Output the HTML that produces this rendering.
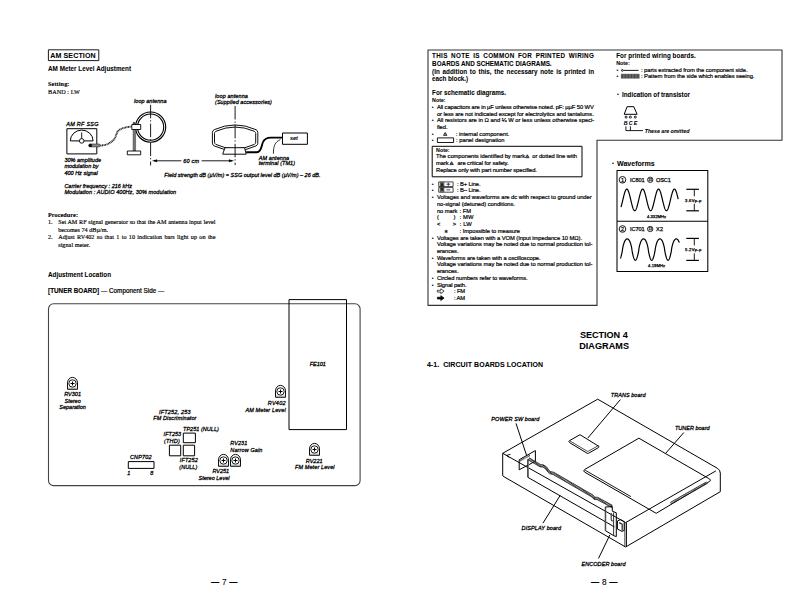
<!DOCTYPE html>
<html lang="en">
<head>
<meta charset="utf-8">
<title>Service Manual — AM Section / Diagrams</title>
<style>
html,body{margin:0;padding:0;background:#fff;}
body{width:793px;height:596px;position:relative;overflow:hidden;font-family:"Liberation Sans",sans-serif;color:#000;}
#sheet{position:absolute;left:0;top:0;width:793px;height:596px;overflow:hidden;background:#fff;}
#art{position:absolute;left:0;top:0;width:793px;height:596px;}
.t{position:absolute;white-space:pre;font-family:"Liberation Sans",sans-serif;font-weight:400;font-style:normal;color:#000;margin:0;padding:0;-webkit-text-stroke:0.2px #000;}
.b{font-weight:700;-webkit-text-stroke-width:0.06px;}
.i{font-style:italic;-webkit-text-stroke-width:0.27px;}
.s{font-family:"Liberation Serif",serif;-webkit-text-stroke-width:0.16px;}
.b.i{-webkit-text-stroke-width:0.06px;}
.b.s{-webkit-text-stroke-width:0.1px;}
svg text{font-family:"Liberation Sans",sans-serif;fill:#000;}
</style>
</head>
<body>
<div id="sheet">
<svg id="art" width="793" height="596" viewBox="0 0 793 596" stroke-linejoin="round" stroke-linecap="butt">
<g id="am-section-box">
<rect x="48.40" y="49.80" width="50.40" height="10.80" rx="0" fill="none" stroke="#000" stroke-width="0.9" />
</g>
<g id="setup-diagram">
<rect x="66.90" y="128.70" width="29.90" height="25.20" rx="0" fill="none" stroke="#000" stroke-width="1.0" />
<path d="M70.3 140.9 A11.4 10.8 0 0 1 93.1 140.9 Z" fill="none" stroke="#000" stroke-width="1.0" />
<circle cx="81.70" cy="140.90" r="2.30" fill="#fff" stroke="#000" stroke-width="0.9"/>
<line x1="81.70" y1="132.40" x2="81.70" y2="138.60" stroke="#000" stroke-width="0.9" />
<rect x="90.20" y="144.00" width="10.00" height="2.90" rx="1.2" fill="#888" stroke="#222" stroke-width="0.6" />
<circle cx="90.20" cy="145.40" r="1.50" fill="#000" stroke="#000" stroke-width="0.6"/>
<path d="M100.4 145.6 C106 145.2 110.5 143.3 114 139.5 C116.8 136 116 131.5 119.8 129.6 C123.5 127.6 127 127 131.6 126.5" fill="none" stroke="#222" stroke-width="1.9" stroke-dasharray="1.0 0.55"/>
<circle cx="150.60" cy="127.10" r="15.10" fill="none" stroke="#000" stroke-width="1.15"/>
<circle cx="150.60" cy="127.10" r="13.10" fill="none" stroke="#000" stroke-width="1.1"/>
<line x1="150.60" y1="104.80" x2="150.60" y2="165.40" stroke="#000" stroke-width="0.9" stroke-dasharray="13.5 2 1.2 2.2"/>
<rect x="133.10" y="129.50" width="2.50" height="21.50" rx="0" fill="#777" stroke="#333" stroke-width="0.5" />
<rect x="131.80" y="124.50" width="8.90" height="5.00" rx="0" fill="#fff" stroke="#000" stroke-width="0.9" />
<rect x="133.20" y="122.40" width="1.60" height="2.00" rx="0" fill="#555" stroke="#000" stroke-width="0.5" />
<rect x="127.30" y="151.00" width="13.40" height="3.80" rx="0" fill="#fff" stroke="#000" stroke-width="0.9" />
<line x1="154.00" y1="160.80" x2="181.30" y2="160.80" stroke="#000" stroke-width="0.9" />
<line x1="201.70" y1="160.80" x2="232.00" y2="160.80" stroke="#000" stroke-width="0.9" />
<path d="M152.30 160.80 L157.00 159.50 L157.00 162.10 Z" fill="#000" stroke="#000" stroke-width="0.2" />
<path d="M233.70 160.80 L229.00 159.50 L229.00 162.10 Z" fill="#000" stroke="#000" stroke-width="0.2" />
<path d="M212.40 132.40 Q212.40 130.60 214.20 129.70 Q235.10 120.20 256.00 129.70 Q257.80 130.60 257.80 132.40 L257.80 143.20 Q257.80 145.00 256.00 145.90 Q235.10 155.80 214.20 145.90 Q212.40 145.00 212.40 143.20 Z" fill="none" stroke="#000" stroke-width="0.95" />
<path d="M214.50 133.50 Q214.50 132.20 215.80 131.30 Q235.10 122.80 254.40 131.30 Q255.70 132.20 255.70 133.50 L255.70 142.20 Q255.70 143.50 254.40 144.40 Q235.10 153.30 215.80 144.40 Q214.50 143.50 214.50 142.20 Z" fill="none" stroke="#000" stroke-width="0.95" />
<path d="M225.00 147.70 L244.60 147.70 L246.20 154.20 L222.70 154.20 Z" fill="#fff" stroke="#000" stroke-width="0.95" />
<line x1="235.10" y1="106.00" x2="235.10" y2="165.00" stroke="#000" stroke-width="0.9" stroke-dasharray="13.5 2 1.2 2.2"/>
<path d="M246.2 152.2 L257 152.2 C261.5 152.2 261.3 146 262.8 142.5 C264.3 138.6 267 137.6 271 137.6 L282.5 137.6" fill="none" stroke="#000" stroke-width="1.9" />
<rect x="282.50" y="133.00" width="24.90" height="11.30" rx="0" fill="#fff" stroke="#000" stroke-width="1.0" />
<path d="M280.4 139.6 C275 142 273.4 146 273.4 153.7" fill="none" stroke="#000" stroke-width="0.8" />
</g>
<g id="tuner-board">
<rect x="48.50" y="303.80" width="311.60" height="181.80" rx="5" fill="none" stroke="#444" stroke-width="1.1" />
<rect x="289.00" y="299.60" width="57.50" height="130.00" rx="0" fill="none" stroke="#000" stroke-width="1.0" />
<path d="M67.50 389.30 L67.50 382.90 A5.00 5.5 0 0 1 77.50 382.90 L77.50 389.30 Z" fill="#fff" stroke="#000" stroke-width="0.95" />
<circle cx="72.50" cy="383.50" r="3.70" fill="none" stroke="#000" stroke-width="0.9"/>
<line x1="70.50" y1="383.50" x2="74.50" y2="383.50" stroke="#000" stroke-width="1" />
<line x1="72.50" y1="381.50" x2="72.50" y2="385.50" stroke="#000" stroke-width="1" />
<line x1="67.50" y1="388.10" x2="77.50" y2="388.10" stroke="#555" stroke-width="0.5" />
<path d="M275.50 397.30 L275.50 390.90 A5.00 5.5 0 0 1 285.50 390.90 L285.50 397.30 Z" fill="#fff" stroke="#000" stroke-width="0.95" />
<circle cx="280.50" cy="391.50" r="3.70" fill="none" stroke="#000" stroke-width="0.9"/>
<line x1="278.50" y1="391.50" x2="282.50" y2="391.50" stroke="#000" stroke-width="1" />
<line x1="280.50" y1="389.50" x2="280.50" y2="393.50" stroke="#000" stroke-width="1" />
<line x1="275.50" y1="396.10" x2="285.50" y2="396.10" stroke="#555" stroke-width="0.5" />
<path d="M218.50 466.30 L218.50 459.90 A5.00 5.5 0 0 1 228.50 459.90 L228.50 466.30 Z" fill="#fff" stroke="#000" stroke-width="0.95" />
<circle cx="223.50" cy="460.50" r="3.70" fill="none" stroke="#000" stroke-width="0.9"/>
<line x1="221.50" y1="460.50" x2="225.50" y2="460.50" stroke="#000" stroke-width="1" />
<line x1="223.50" y1="458.50" x2="223.50" y2="462.50" stroke="#000" stroke-width="1" />
<line x1="218.50" y1="465.10" x2="228.50" y2="465.10" stroke="#555" stroke-width="0.5" />
<path d="M230.50 466.30 L230.50 459.90 A5.00 5.5 0 0 1 240.50 459.90 L240.50 466.30 Z" fill="#fff" stroke="#000" stroke-width="0.95" />
<circle cx="235.50" cy="460.50" r="3.70" fill="none" stroke="#000" stroke-width="0.9"/>
<line x1="233.50" y1="460.50" x2="237.50" y2="460.50" stroke="#000" stroke-width="1" />
<line x1="235.50" y1="458.50" x2="235.50" y2="462.50" stroke="#000" stroke-width="1" />
<line x1="230.50" y1="465.10" x2="240.50" y2="465.10" stroke="#555" stroke-width="0.5" />
<path d="M309.50 455.30 L309.50 448.90 A5.00 5.5 0 0 1 319.50 448.90 L319.50 455.30 Z" fill="#fff" stroke="#000" stroke-width="0.95" />
<circle cx="314.50" cy="449.50" r="3.70" fill="none" stroke="#000" stroke-width="0.9"/>
<line x1="312.50" y1="449.50" x2="316.50" y2="449.50" stroke="#000" stroke-width="1" />
<line x1="314.50" y1="447.50" x2="314.50" y2="451.50" stroke="#000" stroke-width="1" />
<line x1="309.50" y1="454.10" x2="319.50" y2="454.10" stroke="#555" stroke-width="0.5" />
<rect x="183.30" y="433.10" width="12.10" height="9.60" rx="0" fill="none" stroke="#000" stroke-width="1.0" />
<rect x="169.40" y="445.20" width="11.30" height="10.60" rx="0" fill="none" stroke="#000" stroke-width="1.0" />
<rect x="183.30" y="445.20" width="11.30" height="10.60" rx="0" fill="none" stroke="#000" stroke-width="1.0" />
<rect x="128.30" y="461.60" width="25.70" height="6.80" rx="0" fill="none" stroke="#000" stroke-width="1.0" />
</g>
<g id="note-frame">
<path d="M428.00 50.00 L782.00 50.00 L782.00 140.20 L597.00 140.20 L597.00 305.40 L428.00 305.40 Z" fill="none" stroke="#333" stroke-width="1.1" />
<rect x="432.20" y="146.30" width="149.80" height="30.50" rx="0" fill="none" stroke="#000" stroke-width="1.0" />
</g>
<g id="note-symbols">
<path d="M445.20 132.48 L446.90 135.38 L443.50 135.38 Z" fill="none" stroke="#000" stroke-width="0.8" stroke-linejoin="miter"/>
<line x1="445.20" y1="133.50" x2="445.20" y2="134.95" stroke="#000" stroke-width="0.7" />
<rect x="437.40" y="137.90" width="16.20" height="4.60" rx="0" fill="none" stroke="#000" stroke-width="0.9" />
<path d="M527.30 154.78 L529.00 157.68 L525.60 157.68 Z" fill="none" stroke="#000" stroke-width="0.8" stroke-linejoin="miter"/>
<line x1="527.30" y1="155.81" x2="527.30" y2="157.25" stroke="#000" stroke-width="0.7" />
<path d="M451.60 161.69 L453.30 164.58 L449.90 164.58 Z" fill="none" stroke="#000" stroke-width="0.8" stroke-linejoin="miter"/>
<line x1="451.60" y1="162.71" x2="451.60" y2="164.15" stroke="#000" stroke-width="0.7" />
<rect x="438.70" y="181.90" width="14.40" height="4.60" rx="0" fill="none" stroke="#000" stroke-width="0.7" />
<rect x="440.30" y="182.40" width="3.60" height="3.60" rx="0" fill="#ddd" stroke="#000" stroke-width="0.6" />
<line x1="446.40" y1="184.20" x2="450.20" y2="184.20" stroke="#000" stroke-width="0.7" />
<line x1="448.30" y1="182.60" x2="448.30" y2="185.80" stroke="#000" stroke-width="0.7" />
<rect x="438.70" y="187.60" width="14.40" height="4.60" rx="0" fill="none" stroke="#000" stroke-width="0.7" />
<rect x="440.30" y="188.10" width="3.60" height="3.60" rx="0" fill="#ddd" stroke="#000" stroke-width="0.6" />
<line x1="446.40" y1="189.90" x2="450.20" y2="189.90" stroke="#000" stroke-width="0.7" />
<path d="M437.4 290.3 h3.4 v-1.5 l3.3 2.4 l-3.3 2.4 v-1.5 h-3.4 Z" fill="none" stroke="#000" stroke-width="0.7" />
<path d="M437.4 297.2 h3.4 v-1.5 l3.3 2.4 l-3.3 2.4 v-1.5 h-3.4 Z" fill="#000" stroke="#000" stroke-width="0.7" />
<circle cx="622.30" cy="70.40" r="0.90" fill="none" stroke="#000" stroke-width="0.8"/>
<line x1="623.20" y1="70.40" x2="638.60" y2="70.40" stroke="#000" stroke-width="0.9" />
<rect x="621.20" y="74.10" width="18.10" height="4.20" rx="0" fill="#666" stroke="#444" stroke-width="0.4" />
<line x1="622.20" y1="74.30" x2="622.20" y2="78.10" stroke="#333" stroke-width="0.7" />
<line x1="625.30" y1="74.30" x2="625.30" y2="78.10" stroke="#333" stroke-width="0.7" />
<line x1="628.40" y1="74.30" x2="628.40" y2="78.10" stroke="#333" stroke-width="0.7" />
<line x1="631.50" y1="74.30" x2="631.50" y2="78.10" stroke="#333" stroke-width="0.7" />
<line x1="634.60" y1="74.30" x2="634.60" y2="78.10" stroke="#333" stroke-width="0.7" />
<line x1="637.70" y1="74.30" x2="637.70" y2="78.10" stroke="#333" stroke-width="0.7" />
<path d="M627.10 106.70 L633.80 106.70 L637.10 114.30 L624.20 114.30 Z" fill="none" stroke="#000" stroke-width="1.0" stroke-linejoin="miter"/>
<circle cx="626.10" cy="117.10" r="1.00" fill="none" stroke="#000" stroke-width="0.9"/>
<circle cx="630.40" cy="117.10" r="1.00" fill="none" stroke="#000" stroke-width="0.9"/>
<circle cx="635.30" cy="117.10" r="1.00" fill="none" stroke="#000" stroke-width="0.9"/>
<path d="M625.9 126.3 V130.6 H642.9" fill="none" stroke="#000" stroke-width="0.9" />
<path d="M630.4 126.3 V130.6" fill="none" stroke="#000" stroke-width="0.9" />
</g>
<g id="waveforms">
<rect x="617.00" y="170.50" width="90.80" height="100.90" rx="0" fill="none" stroke="#000" stroke-width="1.05" />
<line x1="617.00" y1="221.20" x2="707.80" y2="221.20" stroke="#000" stroke-width="1.05" />
<path d="M621.00 207.07 L621.20 206.40 L621.40 205.70 L621.60 204.96 L621.80 204.19 L622.00 203.40 L622.20 202.58 L622.40 201.74 L622.60 200.89 L622.80 200.04 L623.00 199.18 L623.20 198.33 L623.40 197.49 L623.60 196.67 L623.80 195.86 L624.00 195.08 L624.20 194.33 L624.40 193.62 L624.60 192.94 L624.80 192.31 L625.00 191.73 L625.20 191.20 L625.40 190.72 L625.60 190.30 L625.80 189.94 L626.00 189.64 L626.20 189.40 L626.40 189.24 L626.60 189.13 L626.80 189.10 L627.00 189.13 L627.20 189.24 L627.40 189.40 L627.60 189.64 L627.80 189.94 L628.00 190.30 L628.20 190.72 L628.40 191.20 L628.60 191.73 L628.80 192.31 L629.00 192.94 L629.20 193.62 L629.40 194.33 L629.60 195.08 L629.80 195.86 L630.00 196.67 L630.20 197.49 L630.40 198.33 L630.60 199.18 L630.80 200.04 L631.00 200.89 L631.20 201.74 L631.40 202.58 L631.60 203.40 L631.80 204.19 L632.00 204.96 L632.20 205.70 L632.40 206.40 L632.60 207.07 L632.80 207.68 L633.00 208.25 L633.20 208.77 L633.40 209.23 L633.60 209.63 L633.80 209.97 L634.00 210.25 L634.20 210.46 L634.40 210.61 L634.60 210.68 L634.80 210.70 L635.00 210.64 L635.20 210.52 L635.40 210.33 L635.60 210.07 L635.80 209.75 L636.00 209.37 L636.20 208.93 L636.40 208.44 L636.60 207.89 L636.80 207.29 L637.00 206.64 L637.20 205.95 L637.40 205.23 L637.60 204.47 L637.80 203.68 L638.00 202.87 L638.20 202.03 L638.40 201.19 L638.60 200.34 L638.80 199.48 L639.00 198.63 L639.20 197.79 L639.40 196.96 L639.60 196.14 L639.80 195.35 L640.00 194.59 L640.20 193.87 L640.40 193.18 L640.60 192.53 L640.80 191.93 L641.00 191.38 L641.20 190.88 L641.40 190.44 L641.60 190.05 L641.80 189.73 L642.00 189.48 L642.20 189.29 L642.40 189.16 L642.60 189.10 L642.80 189.11 L643.00 189.19 L643.20 189.34 L643.40 189.55 L643.60 189.82 L643.80 190.16 L644.00 190.56 L644.20 191.02 L644.40 191.54 L644.60 192.10 L644.80 192.72 L645.00 193.38 L645.20 194.08 L645.40 194.82 L645.60 195.59 L645.80 196.38 L646.00 197.20 L646.20 198.04 L646.40 198.89 L646.60 199.74 L646.80 200.59 L647.00 201.44 L647.20 202.29 L647.40 203.11 L647.60 203.92 L647.80 204.70 L648.00 205.45 L648.20 206.16 L648.40 206.84 L648.60 207.47 L648.80 208.06 L649.00 208.59 L649.20 209.07 L649.40 209.49 L649.60 209.86 L649.80 210.16 L650.00 210.39 L650.20 210.56 L650.40 210.66 L650.60 210.70 L650.80 210.67 L651.00 210.57 L651.20 210.40 L651.40 210.17 L651.60 209.87 L651.80 209.51 L652.00 209.09 L652.20 208.62 L652.40 208.09 L652.60 207.50 L652.80 206.87 L653.00 206.20 L653.20 205.48 L653.40 204.74 L653.60 203.96 L653.80 203.15 L654.00 202.33 L654.20 201.49 L654.40 200.64 L654.60 199.78 L654.80 198.93 L655.00 198.08 L655.20 197.24 L655.40 196.42 L655.60 195.63 L655.80 194.86 L656.00 194.12 L656.20 193.41 L656.40 192.75 L656.60 192.13 L656.80 191.56 L657.00 191.05 L657.20 190.58 L657.40 190.18 L657.60 189.84 L657.80 189.56 L658.00 189.35 L658.20 189.20 L658.40 189.12 L658.60 189.10 L658.80 189.16 L659.00 189.28 L659.20 189.47 L659.40 189.72 L659.60 190.04 L659.80 190.42 L660.00 190.85 L660.20 191.35 L660.40 191.90 L660.60 192.50 L660.80 193.14 L661.00 193.83 L661.20 194.56 L661.40 195.31 L661.60 196.10 L661.80 196.91 L662.00 197.74 L662.20 198.59 L662.40 199.44 L662.60 200.30 L662.80 201.15 L663.00 201.99 L663.20 202.82 L663.40 203.64 L663.60 204.43 L663.80 205.19 L664.00 205.92 L664.20 206.61 L664.40 207.26 L664.60 207.86 L664.80 208.41 L665.00 208.91 L665.20 209.35 L665.40 209.74 L665.60 210.06 L665.80 210.32 L666.00 210.51 L666.20 210.64 L666.40 210.70 L666.60 210.69 L666.80 210.61 L667.00 210.47 L667.20 210.26 L667.40 209.98 L667.60 209.65 L667.80 209.25 L668.00 208.79 L668.20 208.28 L668.40 207.71 L668.60 207.10 L668.80 206.44 L669.00 205.74 L669.20 205.00 L669.40 204.23 L669.60 203.44 L669.80 202.62 L670.00 201.78 L670.20 200.94 L670.40 200.08 L670.60 199.23 L670.80 198.38 L671.00 197.54 L671.20 196.71 L671.40 195.90 L671.60 195.12 L671.80 194.37 L672.00 193.65 L672.20 192.98 L672.40 192.34 L672.60 191.76 L672.80 191.22 L673.00 190.74 L673.20 190.32 L673.40 189.95 L673.60 189.65 L673.80 189.41 L674.00 189.24 L674.20 189.14 L674.40 189.10 L674.60 189.13 L674.80 189.23 L675.00 189.39 L675.20 189.62 L675.40 189.92 L675.60 190.28 L675.80 190.69 L676.00 191.17 L676.20 191.70 L676.40 192.28 L676.60 192.91 L676.80 193.58 L677.00 194.30 L677.20 195.05 L677.40 195.82 L677.60 196.63 L677.80 197.45 L678.00 198.29 L678.20 199.14" fill="none" stroke="#000" stroke-width="1.2" />
<path d="M620.40 258.49 L620.60 257.95 L620.80 257.34 L621.00 256.68 L621.20 255.96 L621.40 255.18 L621.60 254.36 L621.80 253.47 L622.00 252.52 L622.20 251.49 L622.40 250.28 L622.60 248.63 L622.80 247.52 L623.00 246.57 L623.20 245.72 L623.41 244.95 L623.61 244.24 L623.81 243.59 L624.01 243.00 L624.21 242.45 L624.41 241.95 L624.61 241.50 L624.81 241.09 L625.01 240.72 L625.21 240.38 L625.41 240.09 L625.61 239.83 L625.81 239.61 L626.01 239.41 L626.21 239.25 L626.41 239.12 L626.61 239.02 L626.81 238.95 L627.01 238.91 L627.21 238.90 L627.41 238.92 L627.61 238.96 L627.81 239.03 L628.01 239.14 L628.21 239.27 L628.41 239.43 L628.61 239.63 L628.81 239.86 L629.01 240.12 L629.21 240.42 L629.42 240.76 L629.62 241.13 L629.82 241.55 L630.02 242.01 L630.22 242.51 L630.42 243.06 L630.62 243.66 L630.82 244.32 L631.02 245.03 L631.22 245.81 L631.42 246.67 L631.62 247.63 L631.82 248.78 L632.02 250.43 L632.22 251.61 L632.42 252.64 L632.62 253.58 L632.82 254.45 L633.02 255.28 L633.22 256.04 L633.42 256.76 L633.62 257.42 L633.82 258.01 L634.02 258.55 L634.22 259.02 L634.42 259.42 L634.62 259.75 L634.82 260.00 L635.02 260.18 L635.23 260.28 L635.43 260.30 L635.63 260.24 L635.83 260.10 L636.03 259.88 L636.23 259.59 L636.43 259.23 L636.63 258.79 L636.83 258.29 L637.03 257.72 L637.23 257.09 L637.43 256.41 L637.63 255.66 L637.83 254.87 L638.03 254.02 L638.23 253.11 L638.43 252.13 L638.63 251.05 L638.83 249.59 L639.03 248.17 L639.23 247.13 L639.43 246.23 L639.63 245.41 L639.83 244.67 L640.03 243.98 L640.23 243.35 L640.43 242.78 L640.63 242.25 L640.83 241.77 L641.04 241.33 L641.24 240.94 L641.44 240.58 L641.64 240.27 L641.84 239.98 L642.04 239.74 L642.24 239.53 L642.44 239.35 L642.64 239.20 L642.84 239.08 L643.04 238.99 L643.24 238.93 L643.44 238.90 L643.64 238.90 L643.84 238.93 L644.04 238.99 L644.24 239.07 L644.44 239.19 L644.64 239.33 L644.84 239.51 L645.04 239.71 L645.24 239.96 L645.44 240.23 L645.64 240.55 L645.84 240.90 L646.04 241.29 L646.24 241.72 L646.44 242.20 L646.64 242.72 L646.84 243.29 L647.05 243.91 L647.25 244.59 L647.45 245.33 L647.65 246.14 L647.85 247.03 L648.05 248.05 L648.25 249.36 L648.45 250.92 L648.65 252.02 L648.85 253.01 L649.05 253.93 L649.25 254.78 L649.45 255.58 L649.65 256.33 L649.85 257.02 L650.05 257.66 L650.25 258.23 L650.45 258.74 L650.65 259.18 L650.85 259.56 L651.05 259.86 L651.25 260.08 L651.45 260.23 L651.65 260.29 L651.85 260.28 L652.05 260.19 L652.25 260.02 L652.45 259.78 L652.65 259.46 L652.86 259.07 L653.06 258.60 L653.26 258.07 L653.46 257.48 L653.66 256.83 L653.86 256.12 L654.06 255.36 L654.26 254.54 L654.46 253.67 L654.66 252.74 L654.86 251.73 L655.06 250.57 L655.26 248.92 L655.46 247.75 L655.66 246.77 L655.86 245.90 L656.06 245.11 L656.26 244.39 L656.46 243.73 L656.66 243.12 L656.86 242.57 L657.06 242.06 L657.26 241.60 L657.46 241.17 L657.66 240.80 L657.86 240.46 L658.06 240.15 L658.26 239.89 L658.46 239.65 L658.66 239.45 L658.87 239.29 L659.07 239.15 L659.27 239.04 L659.47 238.97 L659.67 238.92 L659.87 238.90 L660.07 238.91 L660.27 238.95 L660.47 239.02 L660.67 239.11 L660.87 239.24 L661.07 239.39 L661.27 239.58 L661.47 239.80 L661.67 240.06 L661.87 240.35 L662.07 240.68 L662.27 241.05 L662.47 241.45 L662.67 241.90 L662.87 242.40 L663.07 242.94 L663.27 243.53 L663.47 244.17 L663.67 244.87 L663.87 245.63 L664.07 246.47 L664.27 247.41 L664.47 248.50 L664.68 250.12 L664.88 251.37 L665.08 252.42 L665.28 253.37 L665.48 254.26 L665.68 255.10 L665.88 255.88 L666.08 256.60 L666.28 257.27 L666.48 257.89 L666.68 258.44 L666.88 258.92 L667.08 259.34 L667.28 259.68 L667.48 259.95 L667.68 260.15 L667.88 260.26 L668.08 260.30 L668.28 260.26 L668.48 260.14 L668.68 259.94 L668.88 259.66 L669.08 259.31 L669.28 258.89 L669.48 258.41 L669.68 257.85 L669.88 257.24 L670.08 256.56 L670.28 255.83 L670.49 255.05 L670.69 254.21 L670.89 253.32 L671.09 252.36 L671.29 251.30 L671.49 250.03 L671.69 248.43 L671.89 247.35 L672.09 246.42 L672.29 245.59 L672.49 244.83 L672.69 244.13 L672.89 243.49 L673.09 242.90 L673.29 242.36 L673.49 241.87 L673.69 241.43 L673.89 241.02 L674.09 240.66 L674.29 240.33 L674.49 240.04 L674.69 239.79 L674.89 239.57 L675.09 239.38 L675.29 239.23 L675.49 239.11 L675.69 239.01 L675.89 238.95 L676.09 238.91 L676.29 238.90 L676.50 238.92 L676.70 238.97 L676.90 239.05 L677.10 239.16 L677.30 239.30 L677.50 239.46 L677.70 239.67 L677.90 239.90 L678.10 240.17 L678.30 240.47 L678.50 240.82 L678.70 241.20 L678.90 241.62 L679.10 242.09 L679.30 242.60" fill="none" stroke="#000" stroke-width="1.2" />
<line x1="686.30" y1="189.30" x2="698.90" y2="189.30" stroke="#000" stroke-width="1.2" />
<line x1="686.30" y1="210.80" x2="698.90" y2="210.80" stroke="#000" stroke-width="1.2" />
<line x1="694.30" y1="189.30" x2="694.30" y2="196.30" stroke="#000" stroke-width="0.9" />
<line x1="694.30" y1="203.80" x2="694.30" y2="210.80" stroke="#000" stroke-width="0.9" />
<line x1="686.30" y1="238.40" x2="698.90" y2="238.40" stroke="#000" stroke-width="1.2" />
<line x1="686.30" y1="260.40" x2="698.90" y2="260.40" stroke="#000" stroke-width="1.2" />
<line x1="694.30" y1="238.40" x2="694.30" y2="245.40" stroke="#000" stroke-width="0.9" />
<line x1="694.30" y1="253.40" x2="694.30" y2="260.40" stroke="#000" stroke-width="0.9" />
<circle cx="622.50" cy="179.80" r="3.30" fill="none" stroke="#000" stroke-width="0.9"/>
<circle cx="650.20" cy="179.80" r="2.70" fill="none" stroke="#000" stroke-width="0.8"/>
<circle cx="622.50" cy="229.00" r="3.30" fill="none" stroke="#000" stroke-width="0.9"/>
<circle cx="650.20" cy="229.00" r="2.70" fill="none" stroke="#000" stroke-width="0.8"/>
</g>
<g id="boards-location">
<path d="M625.60 522.60 L502.70 453.30 L597.70 399.20 L717.2 468.2 Q720.3 469.8 720.3 473 L720.30 491.70 L625.60 547.00" fill="none" stroke="#000" stroke-width="1.0" />
<path d="M502.70 453.30 L502.70 475.20 Q502.70 476.00 503.90 476.70 L625.60 547.00" fill="none" stroke="#000" stroke-width="1.0" />
<line x1="624.90" y1="523.00" x2="624.90" y2="546.60" stroke="#000" stroke-width="0.8" />
<line x1="626.50" y1="522.30" x2="626.50" y2="546.50" stroke="#000" stroke-width="0.9" />
<line x1="625.60" y1="522.60" x2="715.90" y2="470.90" stroke="#000" stroke-width="1.0" />
<path d="M510.5 454.3 L506.6 455.4 L509.4 457.6" fill="none" stroke="#000" stroke-width="0.9" />
<path d="M656.2 513.3 L584.6 472.1 Q583 471.1 584.5 469.6 L638.9 438.2 L709.6 479 Q711.3 480 709.8 481.3 Z" fill="none" stroke="#000" stroke-width="1.0" />
<line x1="585.30" y1="470.30" x2="630.90" y2="496.60" stroke="#000" stroke-width="0.9" />
<line x1="670.60" y1="503.30" x2="707.00" y2="482.60" stroke="#555" stroke-width="1.9" stroke-dasharray="0.7 0.6"/>
<line x1="670.40" y1="502.40" x2="706.40" y2="481.90" stroke="#111" stroke-width="0.7" />
<line x1="670.80" y1="504.20" x2="707.60" y2="483.30" stroke="#111" stroke-width="0.7" />
<path d="M569.6 440.6 L580 434.7 L598.6 446.2 Q599.7 446.9 598.5 447.6 L588.6 453.2 Q587.8 453.7 587 453.2 L569.6 442.6 Q568 441.6 569.6 440.6 Z" fill="none" stroke="#000" stroke-width="1.0" />
<path d="M569.2 441.6 L587 452.2 Q587.8 452.7 588.6 452.2 L598.6 446.6" fill="none" stroke="#222" stroke-width="0.8" transform="translate(0,-1.1)"/>
<path d="M519.20 459.70 L535.40 450.60 L535.40 461.20 L519.20 469.80 Z" fill="none" stroke="#000" stroke-width="1.0" />
<line x1="520.00" y1="460.80" x2="530.00" y2="455.20" stroke="#333" stroke-width="1.7" stroke-dasharray="0.8 0.5"/>
<path d="M527.8 459.2 L527.8 477.3 L614.4 526.9" fill="none" stroke="#000" stroke-width="1.0" />
<line x1="528.40" y1="459.40" x2="528.40" y2="477.00" stroke="#777" stroke-width="1.2" />
<path d="M528.60 458.80 L540.50 465.80 L543.00 465.90 L546.00 467.80 L548.20 470.90 L550.00 472.60 L553.50 473.40 L592.60 496.10 L594.40 498.30 L597.50 498.50 L612.20 506.50" fill="none" stroke="#222" stroke-width="2.3" stroke-dasharray="0.8 0.45"/>
<path d="M528.60 458.80 L540.50 465.80 L543.00 465.90 L546.00 467.80 L548.20 470.90 L550.00 472.60 L553.50 473.40 L592.60 496.10 L594.40 498.30 L597.50 498.50 L612.20 506.50" fill="none" stroke="#111" stroke-width="0.7" transform="translate(0.3,-1.15)"/>
<path d="M528.60 458.80 L540.50 465.80 L543.00 465.90 L546.00 467.80 L548.20 470.90 L550.00 472.60 L553.50 473.40 L592.60 496.10 L594.40 498.30 L597.50 498.50 L612.20 506.50" fill="none" stroke="#111" stroke-width="0.7" transform="translate(-0.3,1.15)"/>
<path d="M605.30 507.00 L612.30 506.60 L612.30 511.20 L616.30 512.80 L616.30 536.60 L613.60 535.60 L605.30 530.60 Z" fill="none" stroke="#000" stroke-width="1.0" />
<line x1="613.60" y1="512.50" x2="613.60" y2="535.60" stroke="#000" stroke-width="0.8" />
<line x1="605.80" y1="507.20" x2="605.80" y2="530.60" stroke="#666" stroke-width="0.8" />
<path d="M611.2 513 L611.2 519.5 Q611.2 521 613 521" fill="none" stroke="#333" stroke-width="1.1" />
<path d="M617.4 521 L620.5 519.6 L624.2 521.6 L624.2 530.4 L622 531.4 L617.4 529 Z" fill="none" stroke="#000" stroke-width="1.0" />
<path d="M619.2 522.6 L622.2 524.2 L622.2 530.6" fill="none" stroke="#222" stroke-width="1.2" />
<line x1="620.40" y1="399.60" x2="587.80" y2="438.00" stroke="#000" stroke-width="1.0" />
<line x1="516.00" y1="423.40" x2="526.70" y2="455.70" stroke="#000" stroke-width="1.0" />
<line x1="683.80" y1="432.50" x2="665.60" y2="453.40" stroke="#000" stroke-width="1.0" />
<line x1="543.00" y1="523.10" x2="560.20" y2="495.40" stroke="#000" stroke-width="1.0" />
<line x1="609.90" y1="534.90" x2="598.50" y2="558.40" stroke="#000" stroke-width="1.0" />
</g>
</svg>
<section id="page7">
<div class="t b" style="left:50.2px;top:52px;font-size:7.1px;line-height:8.5px;letter-spacing:0.1px">AM SECTION</div>
<div class="t b" style="left:48px;top:65px;font-size:6.3px;line-height:7.6px;letter-spacing:0.03px">AM Meter Level Adjustment</div>
<div class="t b s" style="left:48px;top:80px;font-size:6.2px;line-height:7.4px;letter-spacing:0.11px">Setting:</div>
<div class="t s" style="left:48px;top:88px;font-size:6.2px;line-height:7.4px;letter-spacing:0.05px">BAND : LW</div>
<div class="t i" style="left:134px;top:98px;font-size:5.5px;line-height:6.6px;letter-spacing:0.06px">loop antenna</div>
<div class="t i" style="left:215px;top:93px;font-size:5.5px;line-height:6.6px;letter-spacing:0.1px">loop antenna</div>
<div class="t i" style="left:215px;top:99px;font-size:5.5px;line-height:6.6px;letter-spacing:0.06px">(Supplied accessories)</div>
<div class="t i" style="left:66.3px;top:121px;font-size:5.5px;line-height:6.6px;letter-spacing:0.26px">AM RF SSG</div>
<div class="t i" style="left:64.4px;top:157px;font-size:5.5px;line-height:6.6px;letter-spacing:0.02px">30% amplitude</div>
<div class="t i" style="left:64.4px;top:163px;font-size:5.5px;line-height:6.6px;letter-spacing:-0.01px">modulation by</div>
<div class="t i" style="left:64.4px;top:170px;font-size:5.5px;line-height:6.6px;letter-spacing:0.01px">400 Hz signal</div>
<div class="t i" style="left:183.3px;top:158px;font-size:5.5px;line-height:6.6px;letter-spacing:0.2px">60 cm</div>
<div class="t b i" style="left:289.92px;top:135px;font-size:5.5px;line-height:6.6px">set</div>
<div class="t i" style="left:258.7px;top:155px;font-size:5.5px;line-height:6.6px;letter-spacing:0.09px">AM antenna</div>
<div class="t i" style="left:258.7px;top:160px;font-size:5.5px;line-height:6.6px;letter-spacing:0.04px">terminal (TM1)</div>
<div class="t i" style="left:164.3px;top:172px;font-size:5.5px;line-height:6.6px;letter-spacing:0.01px">Field strength dB (µV/m) = SSG output level dB (µV/m) – 26 dB.</div>
<div class="t i" style="left:64.4px;top:183px;font-size:5.5px;line-height:6.6px;letter-spacing:0.01px">Carrier frequency : 216 kHz</div>
<div class="t i" style="left:64.4px;top:189px;font-size:5.5px;line-height:6.6px;letter-spacing:0.08px">Modulation : AUDIO 400Hz, 30% modulation</div>
<div class="t b s" style="left:48px;top:211px;font-size:6.2px;line-height:7.4px;letter-spacing:0.07px">Procedure:</div>
<div class="t s" style="left:48px;top:218px;font-size:6.2px;line-height:7.4px">1.</div>
<div class="t s" style="left:58.2px;top:218px;font-size:6.2px;line-height:7.4px;word-spacing:0.1px">Set AM RF signal generator so that the AM antenna input level</div>
<div class="t s" style="left:58.2px;top:226px;font-size:6.2px;line-height:7.4px;letter-spacing:0.01px">becomes 74 dBµ/m.</div>
<div class="t s" style="left:48px;top:233px;font-size:6.2px;line-height:7.4px">2.</div>
<div class="t s" style="left:58.2px;top:233px;font-size:6.2px;line-height:7.4px;word-spacing:0.8px">Adjust RV402 so that 1 to 10 indication bars light up on the</div>
<div class="t s" style="left:58.2px;top:241px;font-size:6.2px;line-height:7.4px;letter-spacing:0.03px">signal meter.</div>
<div class="t b" style="left:48px;top:271px;font-size:6.3px;line-height:7.6px;letter-spacing:0.02px">Adjustment Location</div>
<div class="t" style="left:48px;top:287px;font-size:6.3px;line-height:7.6px;letter-spacing:0.03px;-webkit-text-stroke-width:0.22px"><b style="-webkit-text-stroke-width:0.12px">[TUNER BOARD]</b> — Component Side —</div>
<div class="t i" style="left:309.69px;top:361px;font-size:5.5px;line-height:6.6px">FE101</div>
<div class="t i" style="left:64.24px;top:391px;font-size:5.5px;line-height:6.6px">RV301</div>
<div class="t i" style="left:64.49px;top:398px;font-size:5.5px;line-height:6.6px">Stereo</div>
<div class="t i" style="left:59.3px;top:404px;font-size:5.5px;line-height:6.6px">Separation</div>
<div class="t i" style="left:158.92px;top:409px;font-size:5.5px;line-height:6.6px;letter-spacing:0.21px">IFT252, 253</div>
<div class="t i" style="left:153.24px;top:415px;font-size:5.5px;line-height:6.6px;letter-spacing:0.11px">FM Discriminator</div>
<div class="t i" style="left:183px;top:426px;font-size:5.5px;line-height:6.6px;letter-spacing:0.04px">TP251 (NULL)</div>
<div class="t i" style="left:163.6px;top:431px;font-size:5.5px;line-height:6.6px;letter-spacing:0.03px">IFT253</div>
<div class="t i" style="left:164px;top:438px;font-size:5.5px;line-height:6.6px;letter-spacing:0.21px">(THD)</div>
<div class="t i" style="left:179.82px;top:457px;font-size:5.5px;line-height:6.6px;letter-spacing:0.09px">IFT252</div>
<div class="t i" style="left:179.32px;top:464px;font-size:5.5px;line-height:6.6px;letter-spacing:0.04px">(NULL)</div>
<div class="t i" style="left:129.9px;top:454px;font-size:5.5px;line-height:6.6px;letter-spacing:0.2px">CNP702</div>
<div class="t i" style="left:127.27px;top:470px;font-size:5.5px;line-height:6.6px">1</div>
<div class="t i" style="left:150.17px;top:470px;font-size:5.5px;line-height:6.6px">8</div>
<div class="t i" style="left:212.44px;top:468px;font-size:5.5px;line-height:6.6px">RV251</div>
<div class="t i" style="left:198.49px;top:475px;font-size:5.5px;line-height:6.6px;letter-spacing:0.01px">Stereo Level</div>
<div class="t i" style="left:230.3px;top:440px;font-size:5.5px;line-height:6.6px;letter-spacing:0.06px">RV231</div>
<div class="t i" style="left:230.3px;top:447px;font-size:5.5px;line-height:6.6px;letter-spacing:0.12px">Narrow Gain</div>
<div class="t i" style="left:267.77px;top:400px;font-size:5.5px;line-height:6.6px;letter-spacing:0.26px">RV402</div>
<div class="t i" style="left:245.46px;top:407px;font-size:5.5px;line-height:6.6px;letter-spacing:0.13px">AM Meter Level</div>
<div class="t i" style="left:305.84px;top:458px;font-size:5.5px;line-height:6.6px">RV221</div>
<div class="t i" style="left:294.93px;top:464px;font-size:5.5px;line-height:6.6px;letter-spacing:0.11px">FM Meter Level</div>
<div class="t" style="left:211px;top:578px;font-size:8.2px;line-height:9.8px;letter-spacing:0.22px;-webkit-text-stroke-width:0.1px"><b>—</b> 7 <b>—</b></div>
</section>
<section id="page8">
<div class="t b" style="left:432.1px;top:52px;font-size:6.3px;line-height:7.6px;letter-spacing:0.3px;word-spacing:1.43px">THIS NOTE IS COMMON FOR PRINTED WIRING</div>
<div class="t b" style="left:432.1px;top:60px;font-size:6.3px;line-height:7.6px;letter-spacing:0.02px">BOARDS AND SCHEMATIC DIAGRAMS.</div>
<div class="t b" style="left:432.1px;top:68px;font-size:6.3px;line-height:7.6px;word-spacing:1.05px">(In addition to this, the necessary note is printed in</div>
<div class="t b" style="left:432.1px;top:75px;font-size:6.3px;line-height:7.6px;letter-spacing:-0.03px">each block.)</div>
<div class="t b" style="left:432.1px;top:89px;font-size:6.3px;line-height:7.6px;letter-spacing:-0.01px">For schematic diagrams.</div>
<div class="t b" style="left:432.1px;top:97px;font-size:5.3px;line-height:6.4px;letter-spacing:-0.01px">Note:</div>
<div class="t" style="left:431.69px;top:104px;font-size:5.2px;line-height:6.2px;-webkit-text-stroke-width:0.1px">•</div>
<div class="t" style="left:436.9px;top:104px;font-size:5.8px;line-height:7px;letter-spacing:-0.09px">All capacitors are in µF unless otherwise noted. pF: µµF 50 WV</div>
<div class="t" style="left:436.9px;top:111px;font-size:5.8px;line-height:7px;letter-spacing:-0.05px">or less are not indicated except for electrolytics and tantalums.</div>
<div class="t" style="left:431.69px;top:117px;font-size:5.2px;line-height:6.2px;-webkit-text-stroke-width:0.1px">•</div>
<div class="t" style="left:436.9px;top:117px;font-size:5.8px;line-height:7px;letter-spacing:0px">All resistors are in Ω and ¼ W or less unless otherwise speci-</div>
<div class="t" style="left:436.9px;top:124px;font-size:5.8px;line-height:7px;letter-spacing:-0.09px">fied.</div>
<div class="t" style="left:431.69px;top:131px;font-size:5.2px;line-height:6.2px;-webkit-text-stroke-width:0.1px">•</div>
<div class="t" style="left:455.8px;top:131px;font-size:5.8px;line-height:7px;letter-spacing:-0.03px">: internal component.</div>
<div class="t" style="left:431.69px;top:137px;font-size:5.2px;line-height:6.2px;-webkit-text-stroke-width:0.1px">•</div>
<div class="t" style="left:456px;top:137px;font-size:5.8px;line-height:7px;letter-spacing:-0.01px">: panel designation</div>
<div class="t b" style="left:436.1px;top:147px;font-size:5.3px;line-height:6.4px;letter-spacing:-0.01px">Note:</div>
<div class="t" style="left:436.1px;top:153px;font-size:5.8px;line-height:7px;letter-spacing:-0.04px">The components identified by mark <span style="visibility:hidden">▲</span>or dotted line with</div>
<div class="t" style="left:436.1px;top:160px;font-size:5.8px;line-height:7px;letter-spacing:-0.08px">mark <span style="visibility:hidden">▲</span> are critical for safety.</div>
<div class="t" style="left:436.1px;top:167px;font-size:5.8px;line-height:7px;letter-spacing:-0.09px">Replace only with part number specified.</div>
<div class="t" style="left:431.69px;top:181px;font-size:5.2px;line-height:6.2px;-webkit-text-stroke-width:0.1px">•</div>
<div class="t b" style="left:440.73px;top:183px;font-size:3.8px;line-height:4.6px;-webkit-text-stroke-width:0.2px">B</div>
<div class="t" style="left:457px;top:181px;font-size:5.8px;line-height:7px;letter-spacing:-0.12px">: B+ Line.</div>
<div class="t" style="left:431.69px;top:187px;font-size:5.2px;line-height:6.2px;-webkit-text-stroke-width:0.1px">•</div>
<div class="t b" style="left:440.73px;top:188px;font-size:3.8px;line-height:4.6px;-webkit-text-stroke-width:0.2px">B</div>
<div class="t" style="left:457px;top:187px;font-size:5.8px;line-height:7px;letter-spacing:-0.1px">: B– Line.</div>
<div class="t" style="left:431.69px;top:194px;font-size:5.2px;line-height:6.2px;-webkit-text-stroke-width:0.1px">•</div>
<div class="t" style="left:436.9px;top:194px;font-size:5.8px;line-height:7px;letter-spacing:-0.02px">Voltages and waveforms are dc with respect to ground under</div>
<div class="t" style="left:436.9px;top:201px;font-size:5.8px;line-height:7px;letter-spacing:-0.04px">no-signal (detuned) conditions.</div>
<div class="t" style="left:436.9px;top:208px;font-size:5.8px;line-height:7px;letter-spacing:-0.06px">no mark</div>
<div class="t" style="left:459.6px;top:208px;font-size:5.8px;line-height:7px;letter-spacing:-0.02px">: FM</div>
<div class="t" style="left:436.9px;top:214px;font-size:5.8px;line-height:7px">(</div>
<div class="t" style="left:453.5px;top:214px;font-size:5.8px;line-height:7px">)</div>
<div class="t" style="left:459.6px;top:214px;font-size:5.8px;line-height:7px;letter-spacing:0.12px">: MW</div>
<div class="t" style="left:436.9px;top:221px;font-size:5.8px;line-height:7px">&lt;</div>
<div class="t" style="left:452.8px;top:221px;font-size:5.8px;line-height:7px">&gt;</div>
<div class="t" style="left:459.6px;top:221px;font-size:5.8px;line-height:7px;letter-spacing:0.25px">: LW</div>
<div class="t" style="left:443.9px;top:229px;font-size:4.6px;line-height:5.5px">∗</div>
<div class="t" style="left:459.6px;top:228px;font-size:5.8px;line-height:7px;letter-spacing:-0.05px">: Impossible to measure</div>
<div class="t" style="left:431.69px;top:235px;font-size:5.2px;line-height:6.2px;-webkit-text-stroke-width:0.1px">•</div>
<div class="t" style="left:436.9px;top:235px;font-size:5.8px;line-height:7px;letter-spacing:-0.06px">Voltages are taken with a VOM (Input impedance 10 MΩ).</div>
<div class="t" style="left:436.9px;top:241px;font-size:5.8px;line-height:7px;letter-spacing:-0.04px">Voltage variations may be noted due to normal production tol-</div>
<div class="t" style="left:436.9px;top:248px;font-size:5.8px;line-height:7px;letter-spacing:-0.09px">erances.</div>
<div class="t" style="left:431.69px;top:255px;font-size:5.2px;line-height:6.2px;-webkit-text-stroke-width:0.1px">•</div>
<div class="t" style="left:436.9px;top:255px;font-size:5.8px;line-height:7px;letter-spacing:-0.07px">Waveforms are taken with a oscilloscope.</div>
<div class="t" style="left:436.9px;top:261px;font-size:5.8px;line-height:7px;letter-spacing:-0.04px">Voltage variations may be noted due to normal production tol-</div>
<div class="t" style="left:436.9px;top:268px;font-size:5.8px;line-height:7px;letter-spacing:-0.09px">erances.</div>
<div class="t" style="left:431.69px;top:275px;font-size:5.2px;line-height:6.2px;-webkit-text-stroke-width:0.1px">•</div>
<div class="t" style="left:436.9px;top:275px;font-size:5.8px;line-height:7px;letter-spacing:-0.08px">Circled numbers refer to waveforms.</div>
<div class="t" style="left:431.69px;top:282px;font-size:5.2px;line-height:6.2px;-webkit-text-stroke-width:0.1px">•</div>
<div class="t" style="left:436.9px;top:282px;font-size:5.8px;line-height:7px;letter-spacing:-0.09px">Signal path.</div>
<div class="t" style="left:454px;top:288px;font-size:5.8px;line-height:7px;letter-spacing:-0.15px">: FM</div>
<div class="t" style="left:454px;top:295px;font-size:5.8px;line-height:7px;letter-spacing:-0.15px">: AM</div>
<div class="t b" style="left:616.2px;top:52px;font-size:6.3px;line-height:7.6px;letter-spacing:0.06px">For printed wiring boards.</div>
<div class="t b" style="left:616.2px;top:60px;font-size:5.3px;line-height:6.4px;letter-spacing:-0.01px">Note:</div>
<div class="t" style="left:616.59px;top:67px;font-size:5.2px;line-height:6.2px;-webkit-text-stroke-width:0.1px">•</div>
<div class="t" style="left:641px;top:67px;font-size:5.8px;line-height:7px;letter-spacing:-0.05px">: parts extracted from the component side.</div>
<div class="t" style="left:616.59px;top:73px;font-size:5.2px;line-height:6.2px;-webkit-text-stroke-width:0.1px">•</div>
<div class="t" style="left:641px;top:73px;font-size:5.8px;line-height:7px;letter-spacing:-0.05px">: Pattern from the side which enables seeing.</div>
<div class="t" style="left:616.89px;top:91px;font-size:5.2px;line-height:6.2px;-webkit-text-stroke-width:0.1px">•</div>
<div class="t b" style="left:622px;top:91px;font-size:6.3px;line-height:7.6px;letter-spacing:-0.01px">Indication of transistor</div>
<div class="t b i" style="left:623.8px;top:120px;font-size:5.3px;line-height:6.4px;letter-spacing:-0.17px">B C E</div>
<div class="t b i" style="left:644.7px;top:128px;font-size:5.3px;line-height:6.4px;letter-spacing:-0.04px">These are omitted</div>
<div class="t" style="left:611.89px;top:160px;font-size:5.2px;line-height:6.2px;-webkit-text-stroke-width:0.1px">•</div>
<div class="t b" style="left:617px;top:160px;font-size:7.1px;line-height:8.5px;letter-spacing:-0.02px">Waveforms</div>
<div class="t" style="left:620.97px;top:177px;font-size:5.5px;line-height:6.6px;-webkit-text-stroke-width:0.25px">1</div>
<div class="t" style="left:630px;top:177px;font-size:5.6px;line-height:6.7px;letter-spacing:-0.05px;-webkit-text-stroke-width:0.25px">IC801</div>
<div class="t" style="left:648.3px;top:178px;font-size:3.6px;line-height:4.3px;-webkit-text-stroke-width:0.25px">15</div>
<div class="t" style="left:656px;top:177px;font-size:5.6px;line-height:6.7px;letter-spacing:-0.13px;-webkit-text-stroke-width:0.25px">OSC1</div>
<div class="t" style="left:685.05px;top:198px;font-size:4.2px;line-height:5px;letter-spacing:0.26px;-webkit-text-stroke-width:0.25px">3.6Vp-p</div>
<div class="t" style="left:647.09px;top:214px;font-size:4.2px;line-height:5px;letter-spacing:-0.01px;-webkit-text-stroke-width:0.25px">4.332MHz</div>
<div class="t" style="left:620.97px;top:226px;font-size:5.5px;line-height:6.6px;-webkit-text-stroke-width:0.25px">2</div>
<div class="t" style="left:630px;top:226px;font-size:5.6px;line-height:6.7px;letter-spacing:-0.05px;-webkit-text-stroke-width:0.25px">IC701</div>
<div class="t" style="left:648.43px;top:227px;font-size:3.6px;line-height:4.3px;-webkit-text-stroke-width:0.25px">11</div>
<div class="t" style="left:656px;top:226px;font-size:5.6px;line-height:6.7px;letter-spacing:0.18px;-webkit-text-stroke-width:0.25px">X2</div>
<div class="t" style="left:685.05px;top:247px;font-size:4.2px;line-height:5px;letter-spacing:0.26px;-webkit-text-stroke-width:0.25px">5.2Vp-p</div>
<div class="t" style="left:648.12px;top:263px;font-size:4.2px;line-height:5px;letter-spacing:0.03px;-webkit-text-stroke-width:0.25px">4.19MHz</div>
<div class="t b" style="left:579.89px;top:330px;font-size:9.1px;line-height:10.9px;letter-spacing:-0.02px">SECTION 4</div>
<div class="t b" style="left:579.18px;top:341px;font-size:9.1px;line-height:10.9px;letter-spacing:0.04px">DIAGRAMS</div>
<div class="t b" style="left:426.9px;top:361px;font-size:7px;line-height:8.4px;letter-spacing:0.06px">4-1.  CIRCUIT BOARDS LOCATION</div>
<div class="t i" style="left:610.8px;top:392px;font-size:5.5px;line-height:6.6px;letter-spacing:0.05px">TRANS board</div>
<div class="t i" style="left:491.3px;top:416px;font-size:5.5px;line-height:6.6px;letter-spacing:0.09px">POWER SW board</div>
<div class="t i" style="left:675px;top:425px;font-size:5.5px;line-height:6.6px;letter-spacing:0px">TUNER board</div>
<div class="t i" style="left:521.6px;top:525px;font-size:5.5px;line-height:6.6px;letter-spacing:0.1px">DISPLAY board</div>
<div class="t i" style="left:581.4px;top:561px;font-size:5.5px;line-height:6.6px;letter-spacing:0.08px">ENCODER board</div>
<div class="t" style="left:591px;top:578px;font-size:8.2px;line-height:9.8px;letter-spacing:0.22px;-webkit-text-stroke-width:0.1px"><b>—</b> 8 <b>—</b></div>
</section>
</div>
</body>
</html>
